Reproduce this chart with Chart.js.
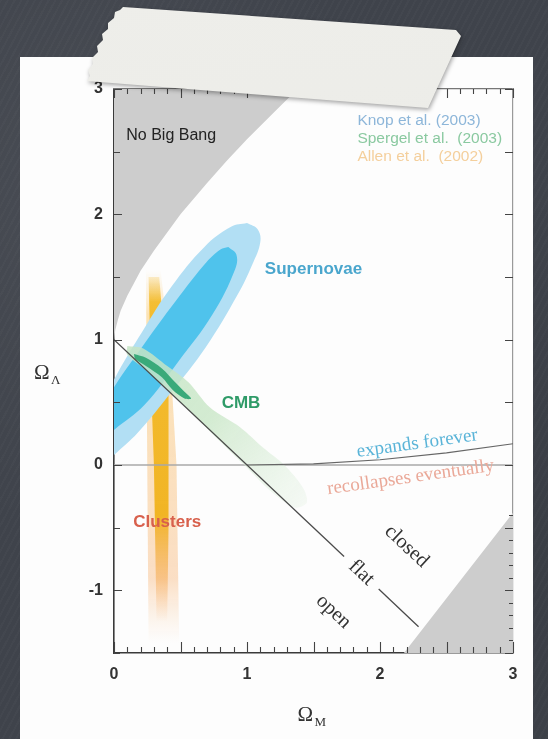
<!DOCTYPE html>
<html>
<head>
<meta charset="utf-8">
<script src="https://cdn.jsdelivr.net/npm/chart.js@4.4.1/dist/chart.umd.min.js"></script>
<style>
  html, body { margin: 0; padding: 0; width: 548px; height: 739px; overflow: hidden; }
  body {
    position: relative;
    background:
      radial-gradient(ellipse at 15% 25%, rgba(255,255,255,0.05), transparent 45%),
      radial-gradient(ellipse at 85% 75%, rgba(0,0,0,0.10), transparent 50%),
      repeating-linear-gradient(118deg, rgba(255,255,255,0.018) 0 2px, transparent 2px 6px),
      #3f434b;
  }
  #paper { position: absolute; left: 20px; top: 57px; width: 513px; height: 682px; background: #fdfdfd; }
  #plot { position: absolute; left: 0; top: 0; }
  #tapeWrap { position: absolute; left: 0; top: 0; width: 548px; height: 739px; filter: drop-shadow(1px 2px 2px rgba(0,0,0,0.35)); pointer-events: none; }
  #tape {
    position: absolute; left: 0; top: 0; width: 548px; height: 739px;
    background: linear-gradient(176deg, #eeeeea, #e7e7e2);
    clip-path: polygon(123px 7px, 456px 30px, 461px 36px, 428px 108px, 87px 81px,
      90px 76px, 88px 70px, 93px 64px, 92px 58px, 98px 52px, 97px 46px, 103px 40px,
      102px 34px, 108px 29px, 108px 23px, 114px 18px, 115px 12px, 120px 10px);
  }
</style>
</head>
<body>
<div id="paper"></div>
<canvas id="plot" width="548" height="739"></canvas>
<div id="tapeWrap"><div id="tape"></div></div>
<script>
// Ω_M / Ω_Λ plane: supernova, CMB and cluster constraints

const xTickLabels = [0, 1, 2, 3];
const yTickLabels = [-1, 0, 1, 2, 3];

// excluded regions
const noBigBang = [[0, 3], [1.38, 3], [1.2, 2.81], [1.0, 2.6], [0.85, 2.43], [0.7, 2.25],
  [0.5, 2.0], [0.3, 1.71], [0.2, 1.55], [0.1, 1.35], [0.05, 1.23], [0.03, 1.16], [0.01, 1.08], [0, 1.0]];
const lowerRightRegion = [[2.18, -1.5], [3, -0.38], [3, -1.5]];

// Knop et al. (2003) supernova contours
const snOuter = [[1.00, 1.93], [1.08, 1.88], [1.10, 1.78], [1.04, 1.60], [0.93, 1.36], [0.69, 0.94],
  [0.43, 0.58], [0.18, 0.26], [0.0, 0.08], [-0.15, -0.07], [-0.23, -0.02], [-0.19, 0.20],
  [-0.08, 0.50], [0.03, 0.74], [0.21, 1.06], [0.43, 1.42], [0.68, 1.74], [0.88, 1.90], [1.00, 1.93]];
const snInner = [[0.86, 1.74], [0.92, 1.68], [0.91, 1.56], [0.74, 1.20], [0.48, 0.82], [0.23, 0.48],
  [0.0, 0.28], [-0.12, 0.18], [-0.17, 0.24], [-0.10, 0.42], [0.0, 0.62], [0.21, 0.94],
  [0.43, 1.26], [0.68, 1.60], [0.80, 1.72], [0.86, 1.74]];

// Spergel et al. (2003) CMB contours
const cmbOuter = [[0.10, 0.95], [0.22, 0.93], [0.40, 0.79], [0.56, 0.66], [0.72, 0.46], [0.95, 0.30],
  [1.12, 0.14], [1.28, 0.0], [1.42, -0.18], [1.45, -0.30], [1.36, -0.34], [1.19, -0.22],
  [0.98, 0.0], [0.74, 0.25], [0.5, 0.50], [0.25, 0.75], [0.10, 0.88], [0.10, 0.95]];
const cmbInner = [[0.15, 0.885], [0.24, 0.855], [0.36, 0.77], [0.46, 0.66], [0.53, 0.585], [0.58, 0.53],
  [0.53, 0.53], [0.44, 0.60], [0.36, 0.70], [0.24, 0.79], [0.16, 0.845], [0.15, 0.885]];

// Allen et al. (2002) cluster gas fraction band
const clusterOuter = [[0.24, 1.56], [0.35, 1.56], [0.42, 0.9], [0.47, 0.0], [0.49, -1.42], [0.26, -1.42], [0.25, 0.0]];
const clusterInner = [[0.26, 1.50], [0.34, 1.50], [0.41, 0.6], [0.41, -0.5], [0.40, -1.25], [0.32, -1.25], [0.30, 0.0], [0.28, 0.6]];

// reference lines
const zeroLine = [[0, 0], [3, 0]];
const flatUpper = [[0, 1], [1.73, -0.73]];
const flatLower = [[1.99, -0.99], [2.29, -1.29]];
const expansionEdge = [[1.0, 0.0], [1.5, 0.009], [2.0, 0.042], [2.5, 0.097], [3.0, 0.169]];

// text drawn on the plane
const notes = [
  { text: 'No Big Bang', x: 0.43, y: 2.63, font: '16px "Liberation Sans"', color: '#222', rot: 0 },
  { text: 'Supernovae', x: 1.50, y: 1.56, font: 'bold 17px "Liberation Sans"', color: '#4aa6cd', rot: 0 },
  { text: 'CMB', x: 0.955, y: 0.495, font: 'bold 17px "Liberation Sans"', color: '#2f9b68', rot: 0 },
  { text: 'Clusters', x: 0.40, y: -0.455, font: 'bold 17px "Liberation Sans"', color: '#d8604c', rot: 0 },
  { text: 'expands forever', x: 2.28, y: 0.17, font: '19px "Liberation Serif"', color: '#5ab4d8', rot: -8 },
  { text: 'recollapses eventually', x: 2.23, y: -0.10, font: '19px "Liberation Serif"', color: '#eaa898', rot: -8 },
  { text: 'closed', x: 2.20, y: -0.65, font: '20.5px "Liberation Serif"', color: '#333', rot: 43 },
  { text: 'flat', x: 1.86, y: -0.86, font: '20.5px "Liberation Serif"', color: '#333', rot: 43 },
  { text: 'open', x: 1.65, y: -1.17, font: '20.5px "Liberation Serif"', color: '#333', rot: 43 }
];
const legendLines = [
  { text: 'Knop et al. (2003)', color: '#8db6d9' },
  { text: 'Spergel et al.  (2003)', color: '#8ac9a0' },
  { text: 'Allen et al.  (2002)', color: '#f4cf9c' }
];
const legendAnchor = { x: 1.83, y: 2.75, step: 0.144 };

const toXY = arr => arr.map(([x, y]) => ({ x, y }));

function vGradient(context, stops) {
  const chart = context.chart;
  const area = chart.chartArea;
  if (!area) return stops[1][1];
  const ys = chart.scales.y;
  const top = ys.getPixelForValue(stops[0][0]);
  const bottom = ys.getPixelForValue(stops[stops.length - 1][0]);
  const g = chart.ctx.createLinearGradient(0, top, 0, bottom);
  stops.forEach(([v, c]) => {
    const t = (ys.getPixelForValue(v) - top) / (bottom - top);
    g.addColorStop(Math.min(1, Math.max(0, t)), c);
  });
  return g;
}

function diagGradient(context) {
  const chart = context.chart;
  if (!chart.chartArea) return 'rgba(200,230,200,0.7)';
  const xs = chart.scales.x, ys = chart.scales.y;
  const g = chart.ctx.createLinearGradient(xs.getPixelForValue(0.1), ys.getPixelForValue(0.9),
                                           xs.getPixelForValue(1.45), ys.getPixelForValue(-0.3));
  g.addColorStop(0, 'rgba(196,228,196,0.85)');
  g.addColorStop(0.45, 'rgba(200,230,198,0.8)');
  g.addColorStop(1, 'rgba(220,238,218,0.25)');
  return g;
}

function region(label, pts, color, order, tension) {
  return { label, data: toXY(pts), showLine: true, pointRadius: 0, borderWidth: 0,
           backgroundColor: color, fill: 'shape', tension: tension || 0, order };
}
function line(label, pts, color, width, order) {
  return { label, data: toXY(pts), showLine: true, pointRadius: 0, borderWidth: width,
           borderColor: color, fill: false, tension: 0, order };
}

const datasets = [
  region('No Big Bang', noBigBang, '#cdcdcd', 20, 0),
  region('lower right', lowerRightRegion, '#cdcdcd', 20, 0),
  region('Clusters (outer)', clusterOuter, ctx => vGradient(ctx, [[1.56, 'rgba(250,215,150,0)'], [1.2, 'rgba(250,205,120,0.55)'],
      [-0.9, 'rgba(248,192,140,0.5)'], [-1.42, 'rgba(250,210,170,0)']]), 18, 0),
  region('Clusters', clusterInner, ctx => vGradient(ctx, [[1.5, 'rgba(244,190,60,0.25)'], [1.3, 'rgba(242,182,25,0.85)'],
      [-0.4, 'rgba(240,176,20,0.9)'], [-0.9, 'rgba(245,170,80,0.55)'], [-1.25, 'rgba(248,180,120,0)']]), 17, 0),
  region('Supernovae (outer)', snOuter, 'rgb(178,223,244)', 16, 0.4),
  region('Supernovae', snInner, 'rgb(79,195,236)', 15, 0.4),
  line('zero', zeroLine, '#a8a8a8', 1.6, 14),
  region('CMB (outer)', cmbOuter, diagGradient, 13, 0.3),
  region('CMB', cmbInner, 'rgb(58,170,122)', 12, 0.3),
  line('flat', flatUpper, '#4a4a4a', 1.3, 11),
  line('flat', flatLower, '#4a4a4a', 1.3, 11),
  line('expansion', expansionEdge, '#666', 1.1, 11)
];

const fontTick = { family: 'Liberation Sans', size: 16, weight: 'bold' };

// ticks pointing into the plot, drawn from the scales' own pixel mapping
const innerTicks = {
  id: 'innerTicks',
  afterDraw(chart) {
    const { ctx, chartArea: a } = chart;
    const xs = chart.scales.x, ys = chart.scales.y;
    ctx.save();
    ctx.strokeStyle = '#444';
    ctx.lineWidth = 1.1;
    ctx.beginPath();
    for (let i = 0; i <= 30; i++) {
      const px = Math.round(xs.getPixelForValue(i / 10)) + 0.5;
      const major = i % 5 === 0;
      ctx.moveTo(px, a.bottom); ctx.lineTo(px, a.bottom - (major ? 11 : 6));
      ctx.moveTo(px, a.top); ctx.lineTo(px, a.top + (major ? 9 : 5));
    }
    for (let i = -15; i <= 30; i++) {
      const py = Math.round(ys.getPixelForValue(i / 10)) + 0.5;
      if (i % 5 === 0) {
        const len = i % 10 === 0 ? 8 : 6;
        ctx.moveTo(a.left, py); ctx.lineTo(a.left + len, py);
        ctx.moveTo(a.right, py); ctx.lineTo(a.right - 8, py);
      } else if (i <= -4) {
        ctx.moveTo(a.right, py); ctx.lineTo(a.right - 4, py);
      }
    }
    ctx.stroke();
    ctx.restore();
  }
};

const planeText = {
  id: 'planeText',
  afterDatasetsDraw(chart) {
    const { ctx, chartArea: a } = chart;
    const xs = chart.scales.x, ys = chart.scales.y;
    ctx.save();
    ctx.textAlign = 'center';
    ctx.textBaseline = 'middle';
    notes.forEach(n => {
      ctx.save();
      ctx.translate(xs.getPixelForValue(n.x), ys.getPixelForValue(n.y));
      ctx.rotate(n.rot * Math.PI / 180);
      ctx.font = n.font;
      ctx.fillStyle = n.color;
      ctx.fillText(n.text, 0, 0);
      ctx.restore();
    });
    ctx.textAlign = 'left';
    ctx.font = '15.5px "Liberation Sans"';
    legendLines.forEach((l, i) => {
      ctx.fillStyle = l.color;
      ctx.fillText(l.text, xs.getPixelForValue(legendAnchor.x), ys.getPixelForValue(legendAnchor.y - i * legendAnchor.step));
    });
    ctx.restore();

    // axis titles: Ω with subscripts
    ctx.save();
    ctx.fillStyle = '#333';
    ctx.textBaseline = 'alphabetic';
    ctx.textAlign = 'left';
    const midY = (a.top + a.bottom) / 2;
    ctx.font = '21px "Liberation Serif"';
    ctx.fillText('Ω', a.left - 80, midY + 8);
    ctx.font = '13px "Liberation Serif"';
    ctx.fillText('Λ', a.left - 63, midY + 13);
    const midX = (a.left + a.right) / 2;
    ctx.font = '21px "Liberation Serif"';
    ctx.fillText('Ω', midX - 16, a.bottom + 68);
    ctx.font = '13px "Liberation Serif"';
    ctx.fillText('M', midX + 1, a.bottom + 73);
    ctx.restore();
  }
};

new Chart(document.getElementById('plot'), {
  type: 'scatter',
  data: { datasets },
  options: {
    responsive: false,
    animation: false,
    events: [],
    layout: { padding: 0 },
    plugins: { legend: { display: false }, tooltip: { enabled: false } },
    scales: {
      x: {
        type: 'linear', position: 'bottom', min: 0, max: 3, z: 1,
        afterFit: s => { s.height = 86; },
        ticks: { stepSize: 1, autoSkip: false, maxRotation: 0, padding: 12, color: '#333', font: fontTick,
                 callback: v => xTickLabels.includes(v) ? String(v) : '' },
        grid: { display: false, drawTicks: false },
        border: { display: true, color: '#3a3a3a', width: 1.6 }
      },
      y: {
        type: 'linear', position: 'left', min: -1.5, max: 3, z: 1,
        afterFit: s => { s.width = 114; },
        ticks: { stepSize: 1, autoSkip: false, padding: 11, color: '#333', font: fontTick,
                 callback: v => yTickLabels.includes(v) ? String(v) : '' },
        grid: { display: false, drawTicks: false },
        border: { display: true, color: '#3a3a3a', width: 1.6 }
      },
      xTop: {
        type: 'linear', position: 'top', min: 0, max: 3, z: 1,
        afterFit: s => { s.height = 89; },
        ticks: { display: false },
        grid: { display: false, drawTicks: false },
        border: { display: true, color: '#777', width: 1.2 }
      },
      yRight: {
        type: 'linear', position: 'right', min: -1.5, max: 3, z: 1,
        afterFit: s => { s.width = 35; },
        ticks: { display: false },
        grid: { display: false, drawTicks: false },
        border: { display: true, color: '#9a9a9a', width: 1.2 }
      }
    }
  },
  plugins: [innerTicks, planeText]
});
</script>
</body>
</html>
